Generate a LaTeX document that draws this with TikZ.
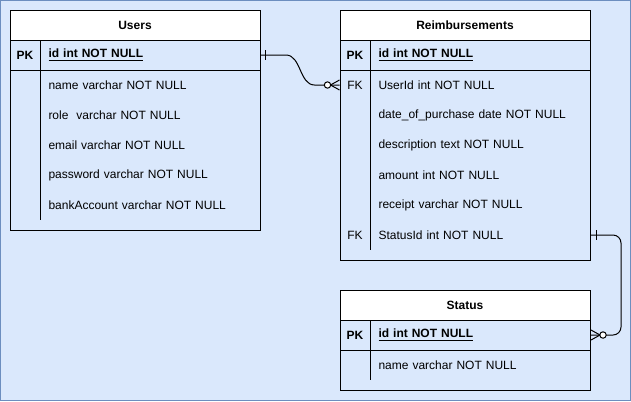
\documentclass[tikz,border=0pt]{standalone}
\usepackage{fontspec}
\setmainfont{Liberation Sans}
\usepackage{tikz}
\usetikzlibrary{calc}
\definecolor{bgblue}{HTML}{DAE8FC}
\definecolor{bgline}{HTML}{6C8EBF}
\newcommand\erfont{\fontsize{9}{11}\selectfont}

\begin{document}
\begin{tikzpicture}[x=0.75pt,y=-0.75pt,line width=0.75pt]
  \tikzstyle{header}=[draw,fill=white,minimum width=187.5pt,minimum height=22.5pt,inner sep=0pt,font=\erfont\bfseries]
  \tikzstyle{keycell}=[minimum width=22.5pt,minimum height=22.5pt,inner sep=0pt,font=\erfont]
  \tikzstyle{pkcell}=[keycell,font=\erfont\bfseries]
  \tikzstyle{field}=[anchor=west,text width=153pt,inner xsep=6pt,inner ysep=0pt,minimum height=22.5pt,align=left,font=\erfont]
  \tikzstyle{pkfield}=[field,font=\erfont\bfseries]
  \useasboundingbox (0,0) rectangle (631,401);
  \fill[bgblue] (0,0) rectangle (631,401);
  \draw[bgline] (0.5,0.5) rectangle (630.5,400.5);

  % Users
  \node[header] (users) at (135,25) {Users};
  \draw (10,40) rectangle (260,230);
  \draw (10,70) -- (260,70);
  \draw (40,40) -- (40,220);
  \node[pkcell] (users-pk) at (25,55) {PK};
  \node[pkfield] (users-id) at (40,55) {\underline{id int NOT NULL}};
  \foreach \i/\t in {1/name varchar NOT NULL,2/role~ varchar NOT NULL,3/email varchar NOT NULL,
                     4/password varchar NOT NULL,5/bankAccount varchar NOT NULL} {
    \node[field] (users-r\i) at (40,{55+30*\i}) {\t};
  }

  % Reimbursements
  \node[header] (reimb) at (465,25) {Reimbursements};
  \draw (340,40) rectangle (590,260);
  \draw (340,70) -- (590,70);
  \draw (370,40) -- (370,250);
  \node[pkcell] (reimb-pk) at (355,55) {PK};
  \node[pkfield] (reimb-id) at (370,55) {\underline{id int NOT NULL}};
  \node[keycell] (reimb-fk1) at (355,85) {FK};
  \node[keycell] (reimb-fk2) at (355,235) {FK};
  \foreach \i/\t in {1/UserId int NOT NULL,2/date\_of\_purchase date NOT NULL,3/description text NOT NULL,
                     4/amount int NOT NULL,5/receipt varchar NOT NULL,6/StatusId int NOT NULL} {
    \node[field] (reimb-r\i) at (370,{55+30*\i}) {\t};
  }

  % Status
  \node[header] (status) at (465,305) {Status};
  \draw (340,320) rectangle (590,390);
  \draw (340,350) -- (590,350);
  \draw (370,320) -- (370,380);
  \node[pkcell] (status-pk) at (355,335) {PK};
  \node[pkfield] (status-id) at (370,335) {\underline{id int NOT NULL}};
  \node[field] (status-r1) at (370,365) {name varchar NOT NULL};

  % Users -> Reimbursements
  \draw (users-id.east) -- ++(25,0) .. controls +(15,0) and +(-15,0) .. ($(reimb-fk1.west)+(-25,0)$) -- (reimb-fk1.west);
  \draw ($(users-id.east)+(4,-5)$) -- ++(0,10);
  \draw ($(reimb-fk1.west)+(0,-5)$) -- ($(reimb-fk1.west)+(-9,0)$) -- ($(reimb-fk1.west)+(0,5)$);
  \draw[fill=white] ($(reimb-fk1.west)+(-12,0)$) circle[radius=2.4pt];

  % Reimbursements -> Status
  \draw[rounded corners=6pt] (reimb-r6.east) -- ++(30,0) |- (status-id.east);
  \draw ($(reimb-r6.east)+(5,-5)$) -- ++(0,10);
  \draw ($(status-id.east)+(0,-5)$) -- ($(status-id.east)+(9,0)$) -- ($(status-id.east)+(0,5)$);
  \draw[fill=white] ($(status-id.east)+(12,0)$) circle[radius=2.4pt];
\end{tikzpicture}
\end{document}
